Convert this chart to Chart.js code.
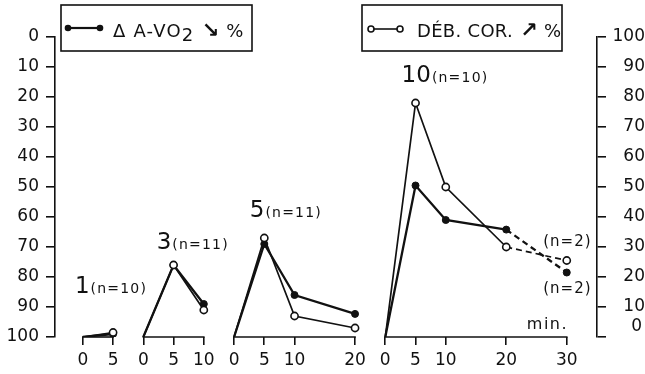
<!DOCTYPE html>
<html>
<head>
<meta charset="utf-8">
<script src="https://cdn.jsdelivr.net/npm/chart.js@4.4.1/dist/chart.umd.min.js"></script>
<style>
  html, body { margin: 0; padding: 0; background: #fff; }
</style>
</head>
<body>
<canvas id="chart" width="645" height="374"></canvas>
<script>
// groups of the experiment (minutes after each dose)
const groupLabels = ['1', '3', '5', '10'];
const groupCounts = ['(n=10)', '(n=11)', '(n=11)', '(n=10)'];
const groupOffsets = [0, 10, 25, 50];
const groupMinutes = [
    [0, 5],
    [0, 5, 10],
    [0, 5, 10, 20],
    [0, 5, 10, 20, 30]
];

// Δ A-VO2, left axis (100 = baseline, reversed)
const avo2Values = [
    [100, 99],
    [100, 76, 89],
    [100, 69, 86, 92.3],
    [100, 49.5, 61, 64.2, 78.5]
];

// coronary flow increase %, right axis
const flowValues = [
    [0, 1.5],
    [0, 24, 9],
    [0, 33, 7, 3],
    [0, 78, 50, 30, 25.5]
];

const yTicks = [0, 10, 20, 30, 40, 50, 60, 70, 80, 90, 100];
const dashedGroup = 3;     // last segment of this group is dashed (n=2)
const dashedFromMinute = 20;

const INK = '#111';
const FONT = '"DejaVu Sans", sans-serif';

Chart.defaults.font.family = FONT;
Chart.defaults.color = INK;

const xTickValues = [];
const xTickLabels = [];
groupMinutes.forEach((mins, g) => {
    mins.forEach(m => {
        xTickValues.push(groupOffsets[g] + m);
        xTickLabels.push(String(m));
    });
});

function dashed(g) {
    return ctx => {
        if (g === dashedGroup && ctx.p0.parsed.x >= groupOffsets[g] + dashedFromMinute) {
            return [6, 4];
        }
        return undefined;
    };
}

const openSets = groupMinutes.map((mins, g) => ({
    label: 'DÉB. COR.',
    yAxisID: 'yR',
    data: mins.map((m, i) => ({ x: groupOffsets[g] + m, y: flowValues[g][i] })),
    borderColor: INK,
    borderWidth: 1.7,
    pointRadius: ctx => ctx.dataIndex === 0 ? 0 : 3.6,
    pointBackgroundColor: '#fff',
    pointBorderColor: INK,
    pointBorderWidth: 1.6,
    segment: { borderDash: dashed(g) },
    tension: 0
}));

const filledSets = groupMinutes.map((mins, g) => ({
    label: 'Δ A-VO2',
    yAxisID: 'yL',
    data: mins.map((m, i) => ({ x: groupOffsets[g] + m, y: avo2Values[g][i] })),
    borderColor: INK,
    borderWidth: 2.3,
    pointRadius: ctx => ctx.dataIndex === 0 ? 0 : 3.5,
    pointBackgroundColor: INK,
    pointBorderColor: INK,
    pointBorderWidth: 1,
    segment: { borderDash: dashed(g) },
    tension: 0
}));

function spacedText(ctx, text, x, y, spacing) {
    ctx.letterSpacing = spacing + 'px';
    ctx.fillText(text, x, y);
    const w = ctx.measureText(text).width;
    ctx.letterSpacing = '0px';
    return w;
}

const overlay = {
    id: 'overlay',
    afterDraw(chart) {
        const { ctx, chartArea, scales } = chart;
        const x = scales.x, yL = scales.yL, yR = scales.yR;
        ctx.save();
        ctx.strokeStyle = INK;
        ctx.fillStyle = INK;
        ctx.lineWidth = 1.6;

        // x axis: one segment under every group
        groupOffsets.forEach((off, g) => {
            const mins = groupMinutes[g];
            ctx.beginPath();
            ctx.moveTo(x.getPixelForValue(off + mins[0]) - 0.8, chartArea.bottom);
            ctx.lineTo(x.getPixelForValue(off + mins[mins.length - 1]) + 0.8, chartArea.bottom);
            ctx.stroke();
        });

        // right axis "0" sits a little above its tick
        ctx.font = '17px ' + FONT;
        ctx.textAlign = 'right';
        ctx.textBaseline = 'alphabetic';
        ctx.fillText('0', 642, yR.getPixelForValue(0) - 6);

        // group labels: big dose number + (n=..)
        const labelPos = [[-1.3, 85.3], [12.2, 70.6], [27.6, 59.9], [52.7, 15]];
        ctx.textAlign = 'left';
        groupLabels.forEach((lab, g) => {
            const px = x.getPixelForValue(labelPos[g][0]);
            const py = yL.getPixelForValue(labelPos[g][1]);
            ctx.font = '23px ' + FONT;
            const w = spacedText(ctx, lab, px, py, 0);
            ctx.font = '14px ' + FONT;
            spacedText(ctx, groupCounts[g], px + w + 1, py, 1.2);
        });

        // (n=2) notes and the unit
        ctx.font = '15px ' + FONT;
        ctx.textAlign = 'right';
        spacedText(ctx, '(n=2)', x.getPixelForValue(84.1), yL.getPixelForValue(69.6), 1);
        spacedText(ctx, '(n=2)', x.getPixelForValue(84.1), yL.getPixelForValue(85.3), 1);
        ctx.textAlign = 'left';
        ctx.font = '16px ' + FONT;
        spacedText(ctx, 'min.', x.getPixelForValue(73.4), yL.getPixelForValue(97.2), 1.5);

        // legend boxes
        ctx.lineWidth = 1.6;
        ctx.strokeRect(61, 5, 191, 46);
        ctx.strokeRect(362, 5, 200, 46);

        // filled sample
        ctx.lineWidth = 2.2;
        ctx.beginPath();
        ctx.moveTo(68, 28);
        ctx.lineTo(100, 28);
        ctx.stroke();
        [68, 100].forEach(cx => {
            ctx.beginPath();
            ctx.arc(cx, 28, 3.3, 0, Math.PI * 2);
            ctx.fill();
        });
        ctx.font = '18px ' + FONT;
        ctx.textAlign = 'left';
        let tx = 113;
        tx += spacedText(ctx, 'Δ A-VO', tx, 37, 1.2);
        tx += spacedText(ctx, '2', tx, 41, 1.2);
        ctx.font = 'bold 21px ' + FONT;
        tx += spacedText(ctx, ' ↘', tx, 37, 0);
        ctx.font = '18px ' + FONT;
        spacedText(ctx, ' %', tx, 37, 1.2);

        // open sample
        ctx.lineWidth = 1.6;
        ctx.beginPath();
        ctx.moveTo(371, 29);
        ctx.lineTo(400, 29);
        ctx.stroke();
        [371, 400].forEach(cx => {
            ctx.beginPath();
            ctx.arc(cx, 29, 3, 0, Math.PI * 2);
            ctx.fillStyle = '#fff';
            ctx.fill();
            ctx.stroke();
        });
        ctx.fillStyle = INK;
        ctx.font = '18px ' + FONT;
        tx = 417;
        tx += spacedText(ctx, 'DÉB. COR.', tx, 37, 0.3);
        ctx.font = 'bold 21px ' + FONT;
        tx += spacedText(ctx, ' ↗', tx, 37, 0);
        ctx.font = '18px ' + FONT;
        spacedText(ctx, ' %', tx, 37, 0.3);

        ctx.restore();
    }
};

new Chart(document.getElementById('chart'), {
    type: 'line',
    data: { datasets: [...openSets, ...filledSets] },
    options: {
        responsive: false,
        animation: false,
        layout: { padding: { top: 37, left: 0, right: 0, bottom: 0 } },
        plugins: {
            legend: { display: false },
            tooltip: { enabled: false }
        },
        scales: {
            x: {
                type: 'linear',
                min: -4.6,
                max: 85,
                afterBuildTicks: scale => {
                    scale.ticks = xTickValues.map(v => ({ value: v }));
                },
                afterFit: scale => { scale.height = 37; },
                ticks: {
                    autoSkip: false,
                    maxRotation: 0,
                    padding: 5,
                    font: { size: 17 },
                    color: INK,
                    callback: (v, i) => xTickLabels[i]
                },
                grid: {
                    drawOnChartArea: false,
                    drawTicks: true,
                    tickLength: 8,
                    color: INK,
                    lineWidth: 1.6
                },
                border: { display: false }
            },
            yL: {
                type: 'linear',
                position: 'left',
                reverse: true,
                min: 0,
                max: 100,
                afterBuildTicks: scale => {
                    scale.ticks = yTicks.map(v => ({ value: v }));
                },
                afterFit: scale => { scale.width = 55; },
                ticks: {
                    padding: 7,
                    font: { size: 17 },
                    color: INK
                },
                grid: {
                    drawOnChartArea: false,
                    tickLength: 9,
                    color: INK,
                    lineWidth: 1.6
                },
                border: { display: true, color: INK, width: 1.6 }
            },
            yR: {
                type: 'linear',
                position: 'right',
                min: 0,
                max: 100,
                afterBuildTicks: scale => {
                    scale.ticks = yTicks.map(v => ({ value: v }));
                },
                afterFit: scale => { scale.width = 48; },
                ticks: {
                    padding: 3,
                    crossAlign: 'far',
                    font: { size: 17 },
                    color: INK,
                    callback: v => v === 0 ? '' : String(v)
                },
                grid: {
                    drawOnChartArea: false,
                    tickLength: 9,
                    color: INK,
                    lineWidth: 1.6
                },
                border: { display: true, color: INK, width: 1.6 }
            }
        }
    },
    plugins: [overlay]
});
</script>
</body>
</html>
